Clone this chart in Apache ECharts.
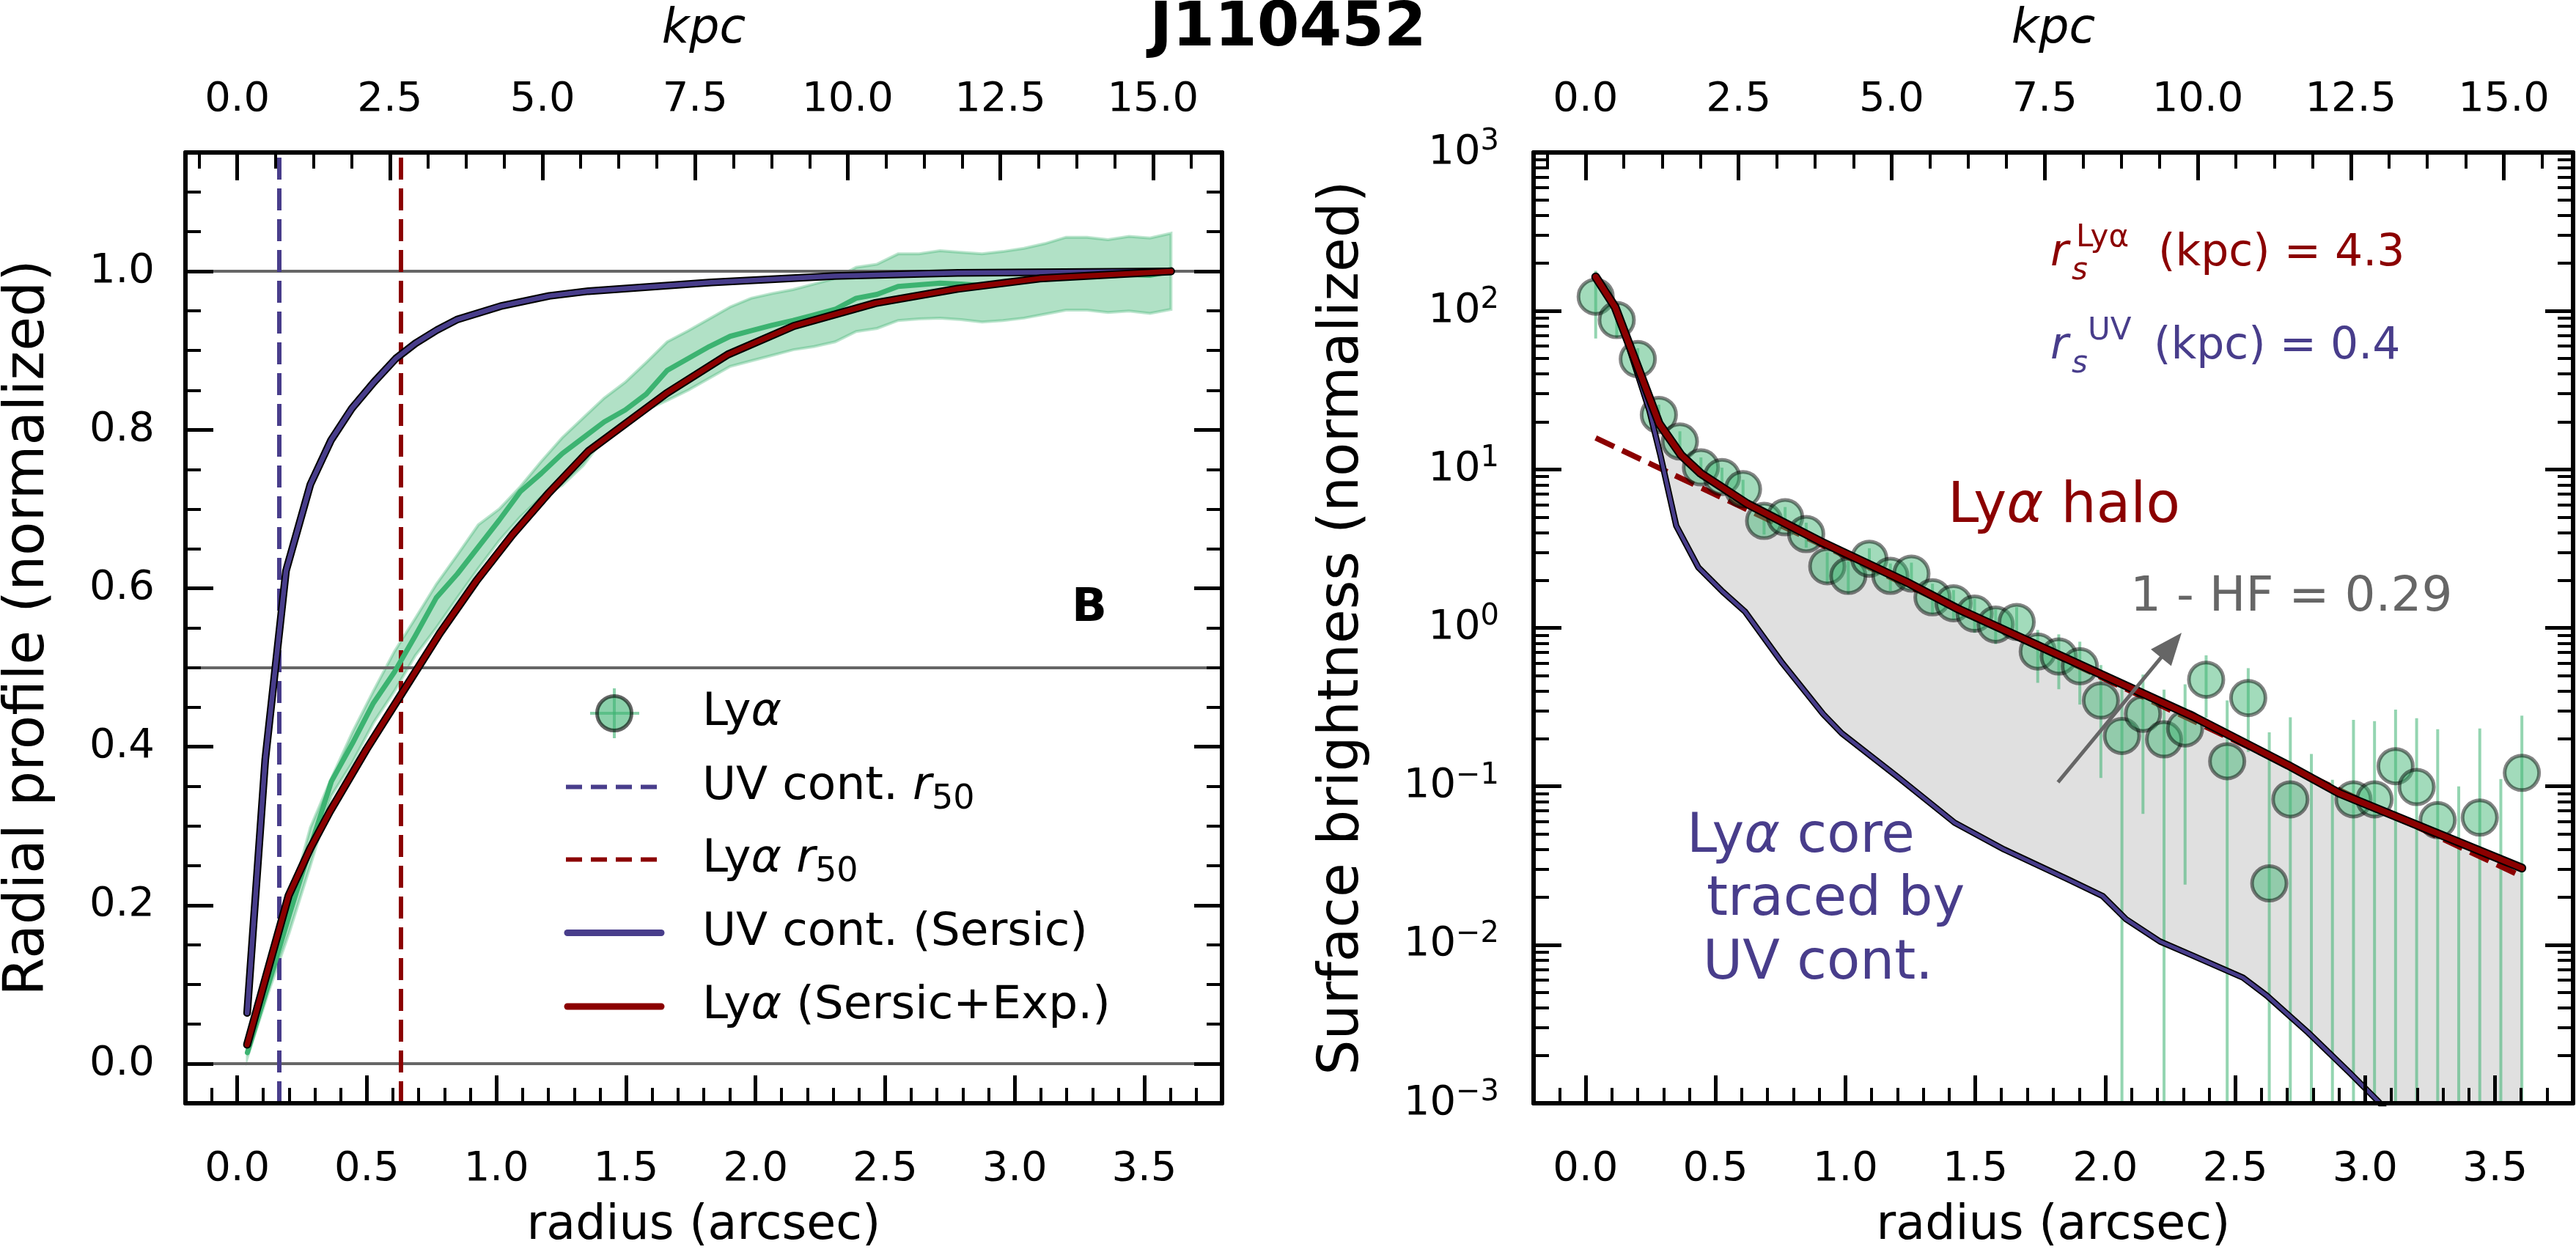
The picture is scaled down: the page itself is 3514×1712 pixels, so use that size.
<!DOCTYPE html>
<html>
<head>
<meta charset="utf-8">
<script src="https://cdn.jsdelivr.net/npm/echarts@6.0.0/dist/echarts.min.js"></script>
<style>
html, body { margin: 0; padding: 0; background: #fff; }
#chart { width: 3514px; height: 1712px; }
</style>
</head>
<body>
<div id="chart"></div>
<script>
var FONT = "'DejaVu Sans', sans-serif";
var DARKRED = '#8b0000', SLATE = '#483d8b';

// ---- data ----
var KPC_PER_ARCSEC = 4.245;

// radial bins (arcsec)
var radius = [0.039, 0.120, 0.201, 0.282, 0.363, 0.444, 0.525, 0.606, 0.687, 0.768,
	0.849, 0.930, 1.011, 1.092, 1.173, 1.254, 1.335, 1.416, 1.497, 1.578,
	1.659, 1.740, 1.821, 1.902, 1.983, 2.064, 2.145, 2.226, 2.307, 2.388,
	2.469, 2.550, 2.631, 2.712, 2.793, 2.874, 2.955, 3.036, 3.117, 3.198,
	3.279, 3.360, 3.441, 3.522, 3.603];

// Lya surface brightness (normalized) and 1-sigma errors
var lyaSB = [123, 87.6, 49.7, 22.1, 15.0, 10.3, 8.96, 7.50, 4.73, 4.99,
	3.91, 2.45, 2.13, 2.73, 2.13, 2.2, 1.56, 1.43, 1.23, 1.05,
	1.09, 0.71, 0.66, 0.573, 0.348, 0.208, 0.287, 0.198, 0.232, 0.471,
	0.144, 0.361, 0.0244, 0.0828, -0.03, -0.08, 0.0828, 0.0828, 0.134, 0.099,
	0.0612, -0.06, 0.0635, -0.05, 0.1216];
var lyaSBErr = [56, 20, 8.5, 3.5, 2.4, 1.6, 1.3, 1.1, 0.85, 0.8,
	0.7, 0.55, 0.5, 0.45, 0.42, 0.38, 0.34, 0.3, 0.3, 0.26,
	0.26, 0.26, 0.25, 0.245, 0.235, 0.21, 0.22, 0.21, 0.208, 0.2,
	0.204, 0.196, 0.195, 0.19, 0.19, 0.19, 0.18, 0.175, 0.171, 0.17,
	0.168, 0.16, 0.168, 0.161, 0.158];

// Lya cumulative radial profile with its band
var lyaCum = [0.014, 0.10, 0.188, 0.273, 0.356, 0.404, 0.455, 0.494, 0.540, 0.588,
	0.618, 0.652, 0.686, 0.722, 0.745, 0.770, 0.790, 0.810, 0.825, 0.845,
	0.875, 0.890, 0.905, 0.918, 0.925, 0.932, 0.938, 0.945, 0.952, 0.966,
	0.971, 0.981, 0.983, 0.985, 0.984, 0.982, 0.985, 0.988, 0.990, 0.993,
	0.995, 0.994, 0.996, 0.995, 1.0];
var lyaCumLo = [0.008, 0.09, 0.166, 0.25, 0.338, 0.38, 0.43, 0.47, 0.515, 0.55,
	0.588, 0.625, 0.66, 0.69, 0.715, 0.73, 0.755, 0.79, 0.81, 0.825,
	0.837, 0.85, 0.865, 0.88, 0.887, 0.894, 0.901, 0.905, 0.911, 0.924,
	0.928, 0.938, 0.94, 0.941, 0.939, 0.936, 0.938, 0.941, 0.946, 0.951,
	0.951, 0.948, 0.95, 0.947, 0.952];
var lyaCumHi = [0.02, 0.115, 0.20, 0.298, 0.36, 0.418, 0.47, 0.52, 0.562, 0.605,
	0.642, 0.68, 0.70, 0.728, 0.76, 0.79, 0.815, 0.84, 0.86, 0.885,
	0.911, 0.925, 0.94, 0.955, 0.966, 0.972, 0.977, 0.984, 0.991, 1.005,
	1.009, 1.022, 1.022, 1.026, 1.024, 1.022, 1.025, 1.029, 1.035, 1.043,
	1.043, 1.040, 1.044, 1.042, 1.048];

// model curves, cumulative (left panel)
var uvCumR = [0.038, 0.108, 0.188, 0.282, 0.362, 0.442, 0.527, 0.612, 0.687, 0.771, 0.847, 1.016, 1.204, 1.355, 1.83, 2.305, 2.78, 3.603];
var uvCum = [0.064, 0.384, 0.622, 0.731, 0.787, 0.827, 0.860, 0.890, 0.909, 0.926, 0.939, 0.956, 0.969, 0.975, 0.986, 0.994, 0.998, 1.0];
var fitCumR = [0.038, 0.122, 0.198, 0.282, 0.357, 0.499, 0.640, 0.781, 0.922, 1.063, 1.204, 1.355, 1.656, 1.893, 2.147, 2.463, 2.780, 3.097, 3.603];
var fitCum = [0.024, 0.123, 0.212, 0.272, 0.318, 0.397, 0.470, 0.543, 0.609, 0.668, 0.721, 0.773, 0.846, 0.895, 0.931, 0.960, 0.978, 0.991, 1.0];

// model curves, surface brightness (right panel)
var uvSBR = [0.039, 0.114, 0.137, 0.246, 0.288, 0.349, 0.434, 0.528, 0.613, 0.757, 0.915, 0.986, 1.20, 1.42, 1.61, 1.86, 1.99, 2.08, 2.21, 2.34, 2.53, 2.62, 2.78, 2.94, 3.05, 3.30, 3.603];
var uvSB = [164, 104, 84, 23.4, 12.3, 4.41, 2.41, 1.69, 1.27, 0.60, 0.285, 0.216, 0.115, 0.059, 0.040, 0.0257, 0.0203, 0.0145, 0.0105, 0.0085, 0.0062, 0.0048, 0.0028, 0.00156, 0.00103, 0.00035, 0.0001];
var fitSBR = [0.039, 0.114, 0.200, 0.283, 0.368, 0.443, 0.622, 0.905, 1.234, 1.432, 2.336, 2.703, 2.90, 3.603];
var fitSB = [164, 105.6, 44.8, 19.5, 12.3, 9.44, 6.07, 3.50, 1.95, 1.32, 0.277, 0.136, 0.0905, 0.0305];
var haloR = [0.039, 3.603];
var haloSB = [15.8, 0.027];

var uvR50 = 0.158, lyaR50 = 0.628;
var refLevels = [0, 0.5, 1];
var hfArrowFrom = [1.818, 0.106], hfArrowTo = [2.254, 0.777];

// ticks
var arcTicks = [0, 0.5, 1, 1.5, 2, 2.5, 3, 3.5];
var kpcTicks = [0, 2.5, 5, 7.5, 10, 12.5, 15];
var cumTicks = [0, 0.2, 0.4, 0.6, 0.8, 1.0];
var sbTicks = [0.001, 0.01, 0.1, 1, 10, 100, 1000];

var arcMinor = [], kpcMinor = [], cumMinor = [], sbMinor = [];
for (var i = -1; i <= 37; i++) arcMinor.push(+(i * 0.1).toFixed(2));
for (var i = -1; i <= 25; i++) kpcMinor.push(i * 0.625);
for (var i = -1; i <= 23; i++) cumMinor.push(+(i * 0.05).toFixed(3));
for (var p = -3; p <= 2; p++) for (var m = 2; m <= 9; m++) sbMinor.push(+(m * Math.pow(10, p)).toPrecision(3));

function pairs(xs, ys) {
	return xs.map(function(x, k) { return [x, ys[k]]; });
}

var xMin = -0.2, xMax = 3.8;
var kpcMin = xMin * KPC_PER_ARCSEC, kpcMax = xMax * KPC_PER_ARCSEC;

var labelStyle = { color: '#000', fontSize: 56, fontFamily: FONT };
var nameStyle = { color: '#000', fontSize: 65, fontFamily: FONT };

function fix1(v) { return v.toFixed(1); }

// one grid gets 4 x axes (bottom/top, major/minor)
function xAxes(g) {
	return [{
		gridIndex: g, type: 'value', min: xMin, max: xMax, position: 'bottom', z: 50,
		axisLine: { show: true, onZero: false, lineStyle: { color: '#000', width: 6 } },
		axisTick: { show: true, inside: true, length: 38, customValues: arcTicks, lineStyle: { color: '#000', width: 5 } },
		axisLabel: Object.assign({ customValues: arcTicks, margin: 62, formatter: fix1 }, labelStyle),
		splitLine: { show: false },
		name: 'radius (arcsec)', nameLocation: 'middle', nameGap: 136, nameTextStyle: nameStyle
	}, {
		gridIndex: g, type: 'value', min: xMin, max: xMax, position: 'bottom', z: 50,
		axisLine: { show: false, onZero: false },
		axisTick: { show: true, inside: true, length: 21, customValues: arcMinor, lineStyle: { color: '#000', width: 4 } },
		axisLabel: { show: false }, splitLine: { show: false }
	}, {
		gridIndex: g, type: 'value', min: kpcMin, max: kpcMax, position: 'top', z: 50,
		axisLine: { show: true, onZero: false, lineStyle: { color: '#000', width: 6 } },
		axisTick: { show: true, inside: true, length: 38, customValues: kpcTicks, lineStyle: { color: '#000', width: 5 } },
		axisLabel: Object.assign({ customValues: kpcTicks, margin: 44, formatter: fix1 }, labelStyle),
		splitLine: { show: false },
		name: 'kpc', nameLocation: 'middle', nameGap: 134,
		nameTextStyle: Object.assign({ fontStyle: 'italic' }, nameStyle)
	}, {
		gridIndex: g, type: 'value', min: kpcMin, max: kpcMax, position: 'top', z: 50,
		axisLine: { show: false, onZero: false },
		axisTick: { show: true, inside: true, length: 22, customValues: kpcMinor, lineStyle: { color: '#000', width: 4 } },
		axisLabel: { show: false }, splitLine: { show: false }
	}];
}

function yAxes(g, type, min, max, major, minor, label, name, gap) {
	var base = { gridIndex: g, type: type, min: min, max: max, z: 50, splitLine: { show: false } };
	if (type === 'log') base.logBase = 10;
	return [
		Object.assign({}, base, {
			position: 'left',
			axisLine: { show: true, onZero: false, lineStyle: { color: '#000', width: 6 } },
			axisTick: { show: true, inside: true, length: 38, customValues: major, lineStyle: { color: '#000', width: 5 } },
			axisLabel: label,
			name: name, nameLocation: 'middle', nameGap: gap,
			nameTextStyle: { color: '#000', fontSize: 76, fontFamily: FONT }
		}),
		Object.assign({}, base, {
			position: 'left',
			axisLine: { show: false, onZero: false },
			axisTick: { show: true, inside: true, length: 21, customValues: minor, lineStyle: { color: '#000', width: 4 } },
			axisLabel: { show: false }
		}),
		Object.assign({}, base, {
			position: 'right',
			axisLine: { show: true, onZero: false, lineStyle: { color: '#000', width: 6 } },
			axisTick: { show: true, inside: true, length: 38, customValues: major, lineStyle: { color: '#000', width: 5 } },
			axisLabel: { show: false }
		}),
		Object.assign({}, base, {
			position: 'right',
			axisLine: { show: false, onZero: false },
			axisTick: { show: true, inside: true, length: 21, customValues: minor, lineStyle: { color: '#000', width: 4 } },
			axisLabel: { show: false }
		})
	];
}

var cumLabel = Object.assign({ customValues: cumTicks, margin: 42, formatter: fix1 }, labelStyle);
var sbLabel = {
	customValues: sbTicks, margin: 47,
	formatter: function(v) {
		var p = Math.round(Math.log10(v));
		return '{b|10}{s|' + (p < 0 ? '\u2212' + (-p) : p) + '}';
	},
	rich: {
		b: { fontSize: 56, fontFamily: FONT, color: '#000' },
		s: { fontSize: 40, fontFamily: FONT, color: '#000', padding: [0, 0, 29, 0] }
	}
};

// ---- custom renderers ----
function bandPoly(params, api) {
	var pts = [];
	for (var k = 0; k < radius.length; k++) pts.push(api.coord([radius[k], lyaCumHi[k]]));
	for (var j = radius.length - 1; j >= 0; j--) pts.push(api.coord([radius[j], lyaCumLo[j]]));
	return { type: 'polygon', shape: { points: pts },
		style: { fill: 'rgba(60,179,113,0.4)', stroke: 'rgba(60,179,113,0.35)', lineWidth: 4 } };
}
function haloFill(params, api) {
	var pts = [];
	for (var k = 0; k < fitSBR.length; k++) pts.push(api.coord([fitSBR[k], fitSB[k]]));
	for (var j = uvSBR.length - 1; j >= 0; j--) pts.push(api.coord([uvSBR[j], uvSB[j]]));
	return { type: 'polygon', shape: { points: pts }, style: { fill: '#e0e0e0' } };
}
function errBar(params, api) {
	var r = api.value(0), v = api.value(1), e = api.value(2);
	var top = api.coord([r, v + e]);
	var bot = api.coord([r, Math.max(v - e, 1e-5)]);
	return { type: 'line', shape: { x1: top[0], y1: top[1], x2: bot[0], y2: bot[1] },
		style: { stroke: 'rgba(60,179,113,0.55)', lineWidth: 4 } };
}

var errData = radius.map(function(r, k) { return [r, lyaSB[k], lyaSBErr[k]]; });
var dotData = [];
radius.forEach(function(r, k) { if (lyaSB[k] > 0) dotData.push([r, lyaSB[k]]); });

function curve(name, xi, yi, data, color, width, z, dash) {
	return {
		name: name, type: 'line', xAxisIndex: xi, yAxisIndex: yi, data: data, z: z,
		showSymbol: false, symbol: 'none', silent: true, animation: false,
		lineStyle: { color: color, width: width, type: dash || 'solid', cap: 'round', join: 'round' }
	};
}

var hLines = refLevels.map(function(v) {
	return { yAxis: v, lineStyle: { color: '#666', width: 4, type: 'solid' } };
});

var greenLine = curve('Lya cum', 0, 0, pairs(radius, lyaCum), '#3cb371', 7, 3);
greenLine.markLine = {
	silent: true, z: 2.5, symbol: ['none', 'none'], label: { show: false }, animation: false,
	data: hLines.concat([
		{ xAxis: uvR50, lineStyle: { color: SLATE, width: 6, type: [30, 12] } },
		{ xAxis: lyaR50, lineStyle: { color: DARKRED, width: 6, type: [30, 12] } }
	])
};

var haloLine = curve('halo', 4, 4, pairs(haloR, haloSB), DARKRED, 7.5, 2.5, [28, 12]);
haloLine.lineStyle.cap = 'butt';
haloLine.markLine = {
	silent: true, z: 6, symbol: ['none', 'triangle'], symbolSize: [36, 44], label: { show: false }, animation: false,
	lineStyle: { color: '#666', width: 5, type: 'solid' },
	data: [[{ coord: hfArrowFrom }, { coord: hfArrowTo }]]
};

var series = [
	{ type: 'custom', xAxisIndex: 0, yAxisIndex: 0, data: [[radius[0], lyaCum[0]]], renderItem: bandPoly, clip: true, z: 1, silent: true, animation: false },
	greenLine,
	curve('UV cum edge', 0, 0, pairs(uvCumR, uvCum), '#000', 10.5, 4),
	curve('UV cum', 0, 0, pairs(uvCumR, uvCum), SLATE, 6.5, 4.1),
	curve('fit cum edge', 0, 0, pairs(fitCumR, fitCum), '#000', 11, 5),
	curve('fit cum', 0, 0, pairs(fitCumR, fitCum), DARKRED, 7, 5.1),

	{ type: 'custom', xAxisIndex: 4, yAxisIndex: 4, data: [[fitSBR[0], fitSB[0]]], renderItem: haloFill, clip: true, z: 1, silent: true, animation: false },
	{ type: 'custom', xAxisIndex: 4, yAxisIndex: 4, data: errData, renderItem: errBar, clip: true, z: 2, silent: true, animation: false },
	haloLine,
	{ type: 'scatter', xAxisIndex: 4, yAxisIndex: 4, data: dotData, z: 3, symbol: 'circle', symbolSize: 47, silent: true, animation: false,
		itemStyle: { color: 'rgba(60,179,113,0.6)', borderColor: 'rgba(0,0,0,0.6)', borderWidth: 5 } },
	curve('UV SB edge', 4, 4, pairs(uvSBR, uvSB), '#000', 8.5, 4),
	curve('UV SB', 4, 4, pairs(uvSBR, uvSB), SLATE, 5, 4.1),
	curve('fit SB edge', 4, 4, pairs(fitSBR, fitSB), '#000', 12, 5),
	curve('fit SB', 4, 4, pairs(fitSBR, fitSB), DARKRED, 8, 5.1)
];

// ---- texts and legend ----
function txt(text, x, y, size, color, extra) {
	return { type: 'text', z: 100, silent: true,
		style: Object.assign({ text: text, x: x, y: y, fontSize: size, fontFamily: FONT, fill: color,
			align: 'left', verticalAlign: 'middle' }, extra || {}) };
}
function rich(size, color) {
	return {
		n: { fontSize: size, fontFamily: FONT, fill: color },
		i: { fontSize: size, fontFamily: FONT, fontStyle: 'italic', fill: color },
		sub: { fontSize: Math.round(size * 0.73), fontFamily: FONT, fill: color, padding: [36, 0, 0, 0] }
	};
}

var legRows = [973, 1073.5, 1172.5, 1272.5, 1373];
var legTexts = ['{n|Ly}{i|α}', '{n|UV cont. }{i|r}{sub|50}', '{n|Ly}{i|α}{n| }{i|r}{sub|50}',
	'{n|UV cont. (Sersic)}', '{n|Ly}{i|α}{n| (Sersic+Exp.)}'];

var graphics = [
	txt('J110452', 1757, 40, 83, '#000', { align: 'center', fontWeight: 'bold' }),
	txt('B', 1486, 831, 63, '#000', { align: 'center', fontWeight: 'bold' }),
	{ type: 'line', z: 100, silent: true, shape: { x1: 838, y1: 939, x2: 838, y2: 1007 }, style: { stroke: 'rgba(60,179,113,0.6)', lineWidth: 4 } },
	{ type: 'line', z: 100, silent: true, shape: { x1: 805, y1: 973, x2: 872, y2: 973 }, style: { stroke: 'rgba(60,179,113,0.6)', lineWidth: 4 } },
	{ type: 'circle', z: 100, silent: true, shape: { cx: 838, cy: 973, r: 23.5 }, style: { fill: 'rgba(60,179,113,0.6)', stroke: 'rgba(0,0,0,0.6)', lineWidth: 5 } },
	{ type: 'line', z: 100, silent: true, shape: { x1: 772, y1: legRows[1], x2: 904, y2: legRows[1] }, style: { stroke: SLATE, lineWidth: 6, lineDash: [22, 12] } },
	{ type: 'line', z: 100, silent: true, shape: { x1: 772, y1: legRows[2], x2: 904, y2: legRows[2] }, style: { stroke: DARKRED, lineWidth: 6, lineDash: [22, 12] } },
	{ type: 'line', z: 100, silent: true, shape: { x1: 774, y1: legRows[3], x2: 902, y2: legRows[3] }, style: { stroke: SLATE, lineWidth: 9, lineCap: 'round' } },
	{ type: 'line', z: 100, silent: true, shape: { x1: 774, y1: legRows[4], x2: 902, y2: legRows[4] }, style: { stroke: DARKRED, lineWidth: 9, lineCap: 'round' } }
];
legTexts.forEach(function(t, k) {
	graphics.push(txt(t, 958, legRows[k], 63, '#000', { rich: rich(63, '#000') }));
});

// right panel annotations
graphics.push(
	txt('r', 2797, 346, 60, DARKRED, { fontStyle: 'italic' }),
	txt('s', 2826, 370, 42, DARKRED, { fontStyle: 'italic' }),
	txt('Lyα', 2832, 325, 42, DARKRED),
	txt('(kpc) = 4.3', 2944, 346, 60, DARKRED),
	txt('r', 2797, 473, 60, SLATE, { fontStyle: 'italic' }),
	txt('s', 2826, 497, 42, SLATE, { fontStyle: 'italic' }),
	txt('UV', 2848, 452, 42, SLATE),
	txt('(kpc) = 0.4', 2938, 473, 60, SLATE),
	txt('{n|Ly}{i|α}{n| halo}', 2657, 692, 76, DARKRED, { rich: rich(76, DARKRED) }),
	txt('1 - HF = 0.29', 2906, 816, 66, '#666'),
	txt('{n|Ly}{i|α}{n| core}', 2301, 1143, 74, SLATE, { rich: rich(74, SLATE) }),
	txt('traced by', 2328, 1229, 74, SLATE),
	txt('UV cont.', 2323, 1316, 74, SLATE)
);

var chart = echarts.init(document.getElementById('chart'), null, { renderer: 'canvas' });
chart.setOption({
	backgroundColor: '#fff',
	animation: false,
	grid: [
		{ left: 247, top: 208, width: 1420, height: 1297 },
		{ left: 2092, top: 208, width: 1418, height: 1297 }
	],
	xAxis: xAxes(0).concat(xAxes(1)),
	yAxis: yAxes(0, 'value', -0.05, 1.15, cumTicks, cumMinor, cumLabel, 'Radial profile (normalized)', 176)
		.concat(yAxes(1, 'log', 0.001, 1000, sbTicks, sbMinor, sbLabel, 'Surface brightness (normalized)', 222)),
	series: series,
	graphic: graphics
});
</script>
</body>
</html>
